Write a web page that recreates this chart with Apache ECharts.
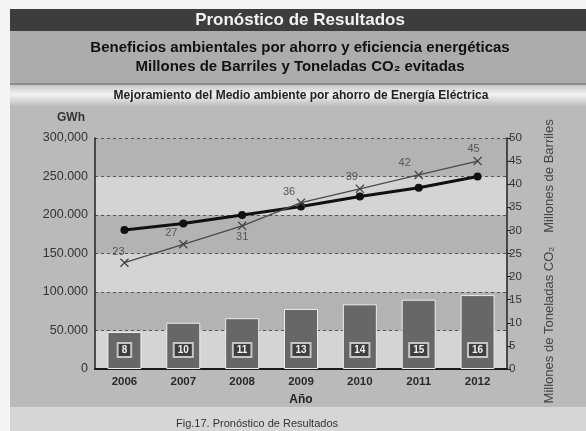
<!DOCTYPE html>
<html>
<head>
<meta charset="utf-8">
<script src="https://cdn.jsdelivr.net/npm/echarts@6/dist/echarts.min.js"></script>
<style>
html,body{margin:0;padding:0;background:#f4f4f4;}
#c{width:586px;height:431px;}
</style>
</head>
<body>
<div id="c"></div>
<script>
// ---- data ----
var years = ['2006','2007','2008','2009','2010','2011','2012'];
var co2Tons = [8, 10, 11, 13, 14, 15, 16];            // Millones de Toneladas CO2 (bars, right axis)
var barrels = [23, 27, 31, 36, 39, 42, 45];           // Millones de Barriles (x-marker line, right axis)
var gwh = [180500, 189000, 200000, 211000, 224000, 235500, 250000]; // GWh (thick line, left axis)
var leftTicks = ['0','50.000','100.000','150.000','200.000','250.000','300,000'];

var FONT = 'Liberation Sans, Arial, sans-serif';
var chart = echarts.init(document.getElementById('c'), null, {renderer:'canvas'});

// per-point label placement for barrels line
var barrelLabelPos = [[-6,-11],[-12,-11],[0,11],[-12,-11],[-8,-12],[-14,-12],[-4,-12]];

var option = {
  animation: false,
  backgroundColor: 'transparent',
  textStyle: {fontFamily: FONT},
  grid: {left: 95, right: 79, top: 138, bottom: 62},
  xAxis: {
    type: 'category',
    data: years,
    axisLine: {lineStyle: {color: '#1a1a1a', width: 2}},
    axisTick: {show: false},
    axisLabel: {color: '#2a2a2a', fontWeight: 'bold', fontSize: 11.5, margin: 7, fontFamily: FONT},
    name: 'Año',
    nameLocation: 'middle',
    nameGap: 25,
    nameTextStyle: {color: '#222', fontWeight: 'bold', fontSize: 12, fontFamily: FONT}
  },
  yAxis: [
    {
      type: 'value', min: 0, max: 300000, interval: 50000,
      name: 'GWh', nameLocation: 'end', nameGap: 14,
      nameTextStyle: {color: '#333', fontSize: 12, fontWeight: 'bold', align: 'center', padding: [0, 48, 0, 0], fontFamily: FONT},
      axisLine: {show: true, lineStyle: {color: '#222', width: 1.5}},
      axisTick: {show: false},
      axisLabel: {color: '#333', fontSize: 12.5, margin: 7, fontFamily: FONT,
        formatter: function (v) { return leftTicks[Math.round(v / 50000)]; }},
      splitLine: {show: true, lineStyle: {color: '#555', type: [3, 3], width: 1}},
      splitArea: {show: true, areaStyle: {color: ['#d4d4d4', '#b3b3b3']}}
    },
    {
      type: 'value', min: 0, max: 50, interval: 5, position: 'right',
      axisLine: {show: true, lineStyle: {color: '#222', width: 1.5}},
      axisTick: {show: true, inside: false, length: 4, lineStyle: {color: '#222'}},
      axisLabel: {color: '#333', fontSize: 11.5, margin: 2, fontFamily: FONT},
      splitLine: {show: false}
    }
  ],
  series: [
    {
      type: 'bar', yAxisIndex: 1, data: co2Tons, barWidth: 34, z: 2,
      itemStyle: {color: '#676767', borderColor: '#ececec', borderWidth: 1},
      label: {
        show: true, position: 'insideBottom', distance: 13,
        color: '#f0f0f0', fontSize: 10, fontWeight: 'bold', fontFamily: FONT,
        backgroundColor: '#3e3e3e', borderColor: '#c4c4c4', borderWidth: 2,
        padding: [1, 3, 1, 3]
      }
    },
    {
      type: 'line', yAxisIndex: 0, data: gwh, z: 4,
      lineStyle: {color: '#111', width: 3},
      symbol: 'circle', symbolSize: 8,
      itemStyle: {color: '#111'}
    },
    {
      type: 'line', yAxisIndex: 1, z: 5,
      data: barrels.map(function (v, i) {
        return {value: v, label: {offset: barrelLabelPos[i]}};
      }),
      lineStyle: {color: '#4a4a4a', width: 1.3},
      symbol: 'path://M0,1L1,0L5,4L9,0L10,1L6,5L10,9L9,10L5,6L1,10L0,9L4,5Z',
      symbolSize: 9,
      itemStyle: {color: '#444'},
      label: {show: true, position: 'inside', color: '#555', fontSize: 11, fontFamily: FONT}
    }
  ],
  graphic: [
    // backgrounds
    {type: 'rect', z: -100, shape: {x: 10, y: 9, width: 576, height: 22}, style: {fill: '#3d3d3d'}},
    {type: 'rect', z: -100, shape: {x: 10, y: 31, width: 576, height: 52}, style: {fill: '#acacac'}},
    {type: 'rect', z: -100, shape: {x: 10, y: 83, width: 576, height: 2}, style: {fill: '#8c8c8c'}},
    {type: 'rect', z: -100, shape: {x: 10, y: 85, width: 576, height: 21},
      style: {fill: new echarts.graphic.LinearGradient(0, 0, 0, 1, [
        {offset: 0, color: '#c8c8c8'}, {offset: 0.45, color: '#f2f2f2'}, {offset: 1, color: '#bdbdbd'}])}},
    {type: 'rect', z: -100, shape: {x: 10, y: 106, width: 576, height: 301}, style: {fill: '#bababa'}},
    {type: 'rect', z: -100, shape: {x: 10, y: 407, width: 576, height: 24}, style: {fill: '#d6d6d6'}},
    // texts
    {type: 'text', z: 100, x: 300, y: 20, style: {text: 'Pronóstico de Resultados', fill: '#f2f2f2',
      font: 'bold 17px ' + FONT, textAlign: 'center', textVerticalAlign: 'middle'}},
    {type: 'text', z: 100, x: 300, y: 48, style: {text: 'Beneficios ambientales por ahorro y eficiencia energéticas', fill: '#111',
      font: 'bold 15px ' + FONT, textAlign: 'center', textVerticalAlign: 'middle'}},
    {type: 'text', z: 100, x: 300, y: 67, style: {text: 'Millones de Barriles y Toneladas CO₂ evitadas', fill: '#111',
      font: 'bold 15px ' + FONT, textAlign: 'center', textVerticalAlign: 'middle'}},
    {type: 'text', z: 100, x: 301, y: 96, style: {text: 'Mejoramiento del Medio ambiente por ahorro de Energía Eléctrica', fill: '#222',
      font: 'bold 12px ' + FONT, textAlign: 'center', textVerticalAlign: 'middle'}},
    {type: 'text', z: 100, x: 549, y: 176, rotation: Math.PI / 2, style: {text: 'Millones de Barriles', fill: '#444',
      font: '13px ' + FONT, textAlign: 'center', textVerticalAlign: 'middle'}},
    {type: 'text', z: 100, x: 549, y: 325, rotation: Math.PI / 2, style: {text: 'Millones de Toneladas CO₂', fill: '#444',
      font: '13px ' + FONT, textAlign: 'center', textVerticalAlign: 'middle'}},
    {type: 'text', z: 100, x: 257, y: 424, style: {text: 'Fig.17. Pronóstico de Resultados', fill: '#333',
      font: '11px ' + FONT, textAlign: 'center', textVerticalAlign: 'middle'}}
  ]
};
chart.setOption(option);
</script>
</body>
</html>
